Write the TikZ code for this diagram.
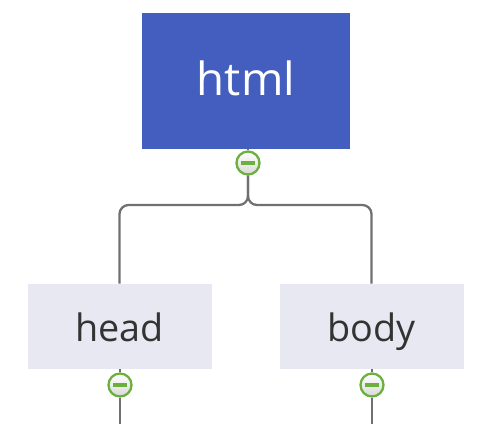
\documentclass[tikz,border=0pt]{standalone}
\usepackage{fontspec}
\setmainfont{Open Sans}
\usepackage{tikz}
\usetikzlibrary{positioning, calc}
\definecolor{rootblue}{RGB}{67, 94, 190}
\definecolor{topicgray}{RGB}{232, 232, 242}
\definecolor{foldgreen}{RGB}{108, 176, 60}
\definecolor{linkgray}{RGB}{112, 112, 112}
\definecolor{textdark}{RGB}{51, 51, 51}

\begin{document}
\begin{tikzpicture}[x=0.02cm, y=0.02cm,
          root/.style={fill=rootblue, minimum width=208*0.02cm, minimum height=136*0.02cm,
                       inner sep=0pt, text height=0.56cm, text depth=0pt,
                       text=white, font=\fontsize{26}{30}\selectfont},
          topic/.style={fill=topicgray, minimum width=184*0.02cm, minimum height=85*0.02cm,
                        inner sep=0pt, text height=0.58cm, text depth=0pt,
                        text=textdark, font=\fontsize{21.5}{26}\selectfont},
          fold/.style={circle, draw=foldgreen, line width=1.3pt, top color=white,
                       bottom color=gray!30, minimum size=23*0.02cm, inner sep=0pt,
                       path picture={\draw[foldgreen, line width=1.8pt]
                         ([xshift=-4pt]path picture bounding box.center) --
                         ([xshift=4pt]path picture bounding box.center);}},
          link/.style={draw=linkgray, line width=1.3pt, rounded corners=9*0.02cm}]
        \useasboundingbox (0,0) rectangle (500,-424);
        % root and its two topics
        \node[root](html) at (246,-81){html};
        \node[topic](head) at (119.5,-326.5){head};
        \node[topic](body) at (371.5,-326.5){body};
        % fold markers
        \node[fold](htmlfold) at (248,-163){};
        \node[fold](headfold) at (120,-385){};
        \node[fold](bodyfold) at (372,-385){};
        \coordinate(split) at (248,-205);
        \coordinate(headend) at (120,-424);
        \coordinate(bodyend) at (372,-424);
        % connectors
        \draw[link](html.south -| htmlfold) -- (htmlfold.north);
        \draw[link](htmlfold.south) -- (split) -| (head.north);
        \draw[link](htmlfold.south) -- (split) -| (body.north);
        \draw[link](head.south -| headfold) -- (headfold.north);
        \draw[link](headfold.south) -- (headend);
        \draw[link](body.south -| bodyfold) -- (bodyfold.north);
        \draw[link](bodyfold.south) -- (bodyend);
      \end{tikzpicture}
\end{document}
